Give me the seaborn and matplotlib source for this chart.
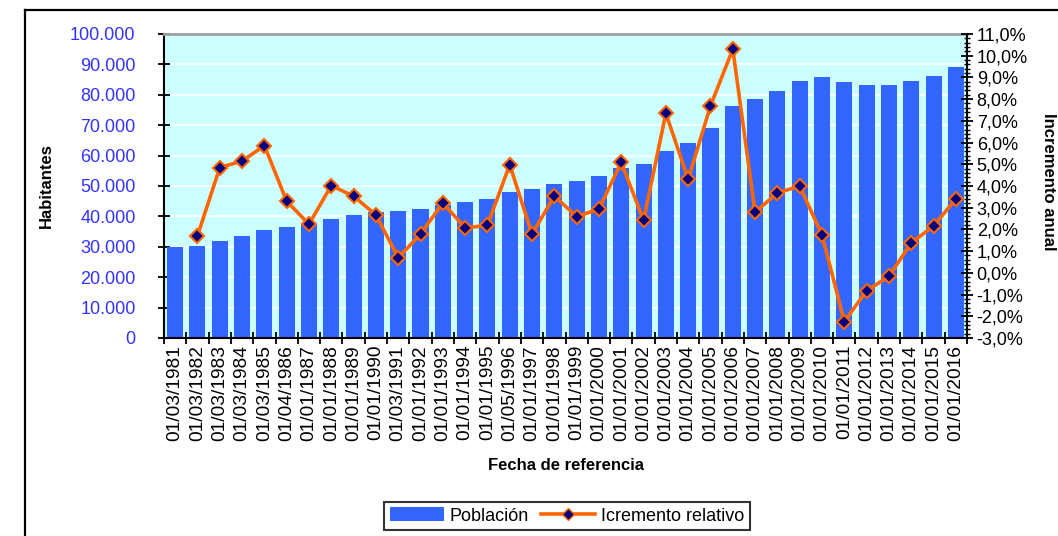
import numpy as np
import pandas as pd
import matplotlib
matplotlib.use('Agg')
import matplotlib.pyplot as plt
from matplotlib.patches import Patch
from matplotlib.lines import Line2D
from matplotlib.ticker import FuncFormatter, MultipleLocator, FixedLocator
import seaborn as sns

# datos
fechas = ['01/03/1981', '01/03/1982', '01/03/1983', '01/03/1984', '01/03/1985',
          '01/04/1986', '01/01/1987', '01/01/1988', '01/01/1989', '01/01/1990',
          '01/03/1991', '01/01/1992', '01/01/1993', '01/01/1994', '01/01/1995',
          '01/05/1996', '01/01/1997', '01/01/1998', '01/01/1999', '01/01/2000',
          '01/01/2001', '01/01/2002', '01/01/2003', '01/01/2004', '01/01/2005',
          '01/01/2006', '01/01/2007', '01/01/2008', '01/01/2009', '01/01/2010',
          '01/01/2011', '01/01/2012', '01/01/2013', '01/01/2014', '01/01/2015',
          '01/01/2016']
poblacion = [29900, 30400, 32000, 33600, 35500, 36600, 37500, 39000, 40400, 41400,
             41800, 42400, 43800, 44700, 45700, 47900, 48900, 50500, 51800, 53400,
             55900, 57400, 61500, 64200, 69100, 76200, 78500, 81400, 84500, 86000,
             84100, 83300, 83200, 84500, 86200, 89300]
incremento = [np.nan, 1.70, 4.85, 5.15, 5.86, 3.30, 2.24, 4.02, 3.53, 2.67,
              0.70, 1.78, 3.22, 2.07, 2.19, 4.98, 1.78, 3.54, 2.59, 2.94,
              5.09, 2.42, 7.35, 4.31, 7.69, 10.30, 2.79, 3.68, 4.00, 1.74,
              -2.25, -0.82, -0.16, 1.38, 2.16, 3.40]

plt.rcParams['font.family'] = ['Liberation Sans', 'DejaVu Sans']

df = pd.DataFrame({'fecha': fechas, 'poblacion': poblacion,
                   'incremento': incremento, 'pos': np.arange(len(fechas))})

fig = plt.figure(figsize=(10.58, 5.36), dpi=100)
ax = fig.add_axes([164/1058, 1-338/536, (967-164)/1058, (338-34)/536])
ax.set_facecolor('#CCFFFF')

sns.barplot(data=df, x='fecha', y='poblacion', color='#3366FF', saturation=1,
            width=0.72, ax=ax, zorder=2)
ax.set_ylim(0, 100000)
ax.set_xlim(-0.5, len(fechas)-0.5)
ax.yaxis.set_major_locator(MultipleLocator(10000))
ax.yaxis.set_major_formatter(FuncFormatter(lambda v, p: f'{int(v):,}'.replace(',', '.')))
ax.set_axisbelow(True)
ax.grid(axis='y', color='white', linewidth=1.2, zorder=0)
ax.grid(axis='x', visible=False)
ax.tick_params(axis='y', direction='inout', length=9, width=1.3, pad=16,
               labelsize=13, labelcolor='#3333FF')
ax.tick_params(axis='x', which='major', length=0, pad=5, labelsize=13.8, labelrotation=90)
ax.xaxis.set_minor_locator(FixedLocator(np.arange(len(fechas)+1) - 0.5))
ax.tick_params(axis='x', which='minor', direction='inout', length=8, width=1.3)
ax.set_xlabel('Fecha de referencia', fontsize=12, fontweight='bold')
ax.xaxis.set_label_coords(0.5, (338-458)/304)
ax.set_ylabel('Habitantes', fontsize=12, fontweight='bold')
ax.yaxis.set_label_coords((54-164)/803, 0.5)
for s in ['left', 'bottom']:
    ax.spines[s].set_color('black')
    ax.spines[s].set_linewidth(1.5)
ax.spines['top'].set_color('#A0A0A0')
ax.spines['top'].set_linewidth(2)
ax.spines['right'].set_visible(False)

ax2 = ax.twinx()
sns.lineplot(data=df, x='pos', y='incremento', ax=ax2, color='#FF6600', linewidth=2.6,
             marker='D', markersize=7, markerfacecolor='#000080',
             markeredgecolor='#FF6600', markeredgewidth=1.5, zorder=3)
ax2.set_ylim(-3, 11)
ax2.set_xlim(-0.5, len(fechas)-0.5)
ax2.yaxis.set_major_locator(MultipleLocator(1))
ax2.yaxis.set_minor_locator(MultipleLocator(0.2))
ax2.yaxis.set_major_formatter(FuncFormatter(lambda v, p: f'{v:.1f}%'.replace('.', ',')))
ax2.tick_params(axis='y', which='major', direction='inout', length=8, width=1.3,
                pad=3, labelsize=13)
ax2.tick_params(axis='y', which='minor', direction='inout', length=4, width=1)
ax2.set_ylabel('')
ax2.set_xlabel('')
ax2.spines['right'].set_color('black')
ax2.spines['right'].set_linewidth(1.5)
for s in ['top', 'left', 'bottom']:
    ax2.spines[s].set_visible(False)

fig.text(1056/1058, 1-182/536, 'Incremento anual', rotation=-90, ha='right', va='center',
         fontsize=12, fontweight='bold')

handles = [Patch(facecolor='#3366FF', edgecolor='none'),
           Line2D([], [], color='#FF6600', linewidth=2.6, marker='D', markersize=6,
                  markerfacecolor='#000080', markeredgecolor='#FF6600')]
leg = fig.legend(handles, ['Población', 'Icremento relativo'], ncol=2, loc='center',
                 bbox_to_anchor=(567/1058, 1-516/536), fontsize=13, frameon=True,
                 fancybox=False, edgecolor='black', handlelength=3.0, handleheight=0.8,
                 handletextpad=0.3, columnspacing=0.7, borderpad=0.3, borderaxespad=0)
leg.get_frame().set_linewidth(1.5)

# marco exterior
fig.add_artist(Line2D([25/1058, 25/1058], [0, 1-10/536], transform=fig.transFigure,
                      color='black', linewidth=1.6))
fig.add_artist(Line2D([25/1058, 1], [1-10/536, 1-10/536], transform=fig.transFigure,
                      color='black', linewidth=1.6))

plt.savefig('out.png', dpi=100)
